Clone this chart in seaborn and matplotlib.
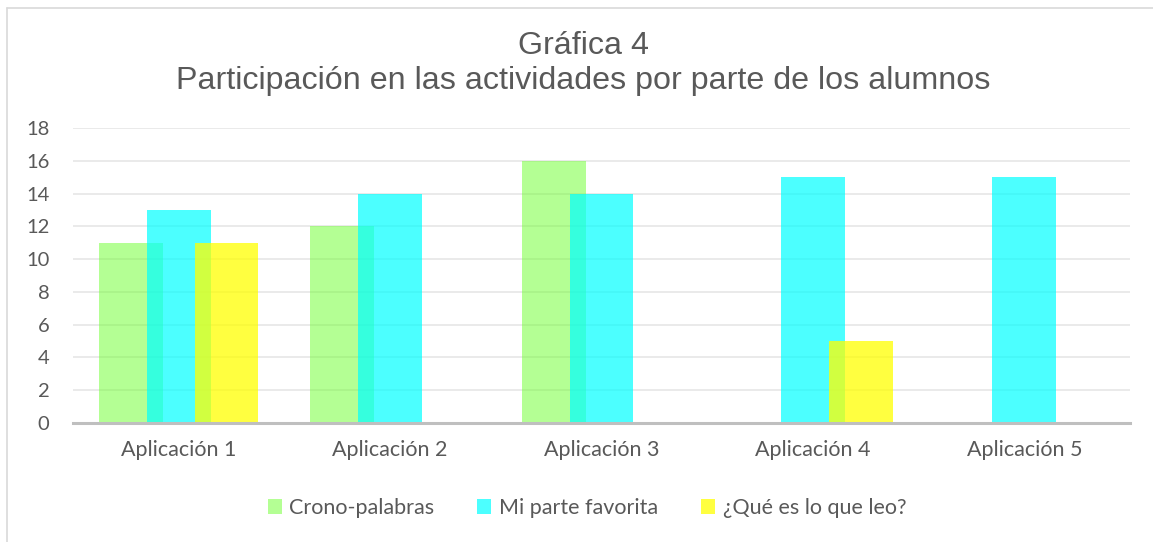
import matplotlib
matplotlib.use("Agg")
import matplotlib.pyplot as plt
from matplotlib.patches import Patch
from matplotlib.lines import Line2D
import seaborn as sns
import pandas as pd
import numpy as np

# ---- data ----
categories = ["Aplicación 1", "Aplicación 2", "Aplicación 3", "Aplicación 4", "Aplicación 5"]
series_names = ["Crono-palabras", "Mi parte favorita", "¿Qué es lo que leo?"]
crono_palabras = [11, 12, 16, 0, 0]
mi_parte_favorita = [13, 14, 14, 15, 15]
que_es_lo_que_leo = [11, 0, 0, 5, 0]
y_ticks = [0, 2, 4, 6, 8, 10, 12, 14, 16, 18]
title_text = "Gráfica 4\nParticipación en las actividades por parte de los alumnos"

# ---- style ----
sns.set_theme(style="white")
plt.rcParams['font.family'] = ['Lato', 'DejaVu Sans']
text_gray = "#595959"

fig = plt.figure(figsize=(11.53, 5.42), dpi=100)
ax = fig.add_axes([73 / 1153, 1 - 423 / 542, 1057 / 1153, 295 / 542])

base_colors = [(0.42, 1.0, 0.17), (0.0, 1.0, 1.0), (1.0, 1.0, 0.0)]
alphas = [0.5, 0.7, 0.75]
offsets = [-0.226, 0.0, 0.226]
bar_width = 0.302

idx = np.arange(len(categories))
all_series = [crono_palabras, mi_parte_favorita, que_es_lo_que_leo]
for vals, off, col, a, name in zip(all_series, offsets, base_colors, alphas, series_names):
    df = pd.DataFrame({"pos": idx + off, "valor": vals})
    sns.barplot(data=df, x="pos", y="valor", native_scale=True, width=bar_width,
                color=col, saturation=1, alpha=a, linewidth=0, errorbar=None, ax=ax)

ax.set_xlim(-0.5, len(categories) - 0.5)
ax.set_ylim(0, 18)
ax.set_yticks(y_ticks)
ax.set_xticks(idx)
ax.set_xticklabels(categories)
ax.set_xlabel("")
ax.set_ylabel("")
ax.yaxis.grid(True, color="#e6e6e6", linewidth=1.2)
ax.set_axisbelow(True)
for s in ["top", "right", "left"]:
    ax.spines[s].set_visible(False)
ax.spines["bottom"].set_color("#bfbfbf")
ax.spines["bottom"].set_linewidth(2.2)
ax.tick_params(axis="x", length=0, labelsize=15.5, labelcolor=text_gray, pad=12)
ax.tick_params(axis="y", length=0, labelsize=14.5, labelcolor=text_gray, pad=17)

# title
fig.text(583 / 1153, 1 - 63.5 / 542, title_text, ha="center", va="center",
         fontsize=23.2, color=text_gray, family=['Liberation Sans', 'DejaVu Sans'],
         linespacing=1.25)

# legend
handles = [Patch(facecolor=c, alpha=a, edgecolor="none") for c, a in zip(base_colors, alphas)]
leg = fig.legend(handles, series_names, loc="center", bbox_to_anchor=(587 / 1153, 1 - 508 / 542),
                 ncol=3, frameon=False, fontsize=15.5, handlelength=0.65, handleheight=0.65,
                 handletextpad=0.35, columnspacing=2.0, labelcolor=text_gray)

# outer border (left and top)
fig.add_artist(Line2D([7 / 1153, 7 / 1153], [0, 1 - 8 / 542], transform=fig.transFigure,
                      color="#d9d9d9", linewidth=1.2))
fig.add_artist(Line2D([7 / 1153, 1], [1 - 8 / 542, 1 - 8 / 542], transform=fig.transFigure,
                      color="#d9d9d9", linewidth=1.2))

fig.savefig("out.png", dpi=100)
